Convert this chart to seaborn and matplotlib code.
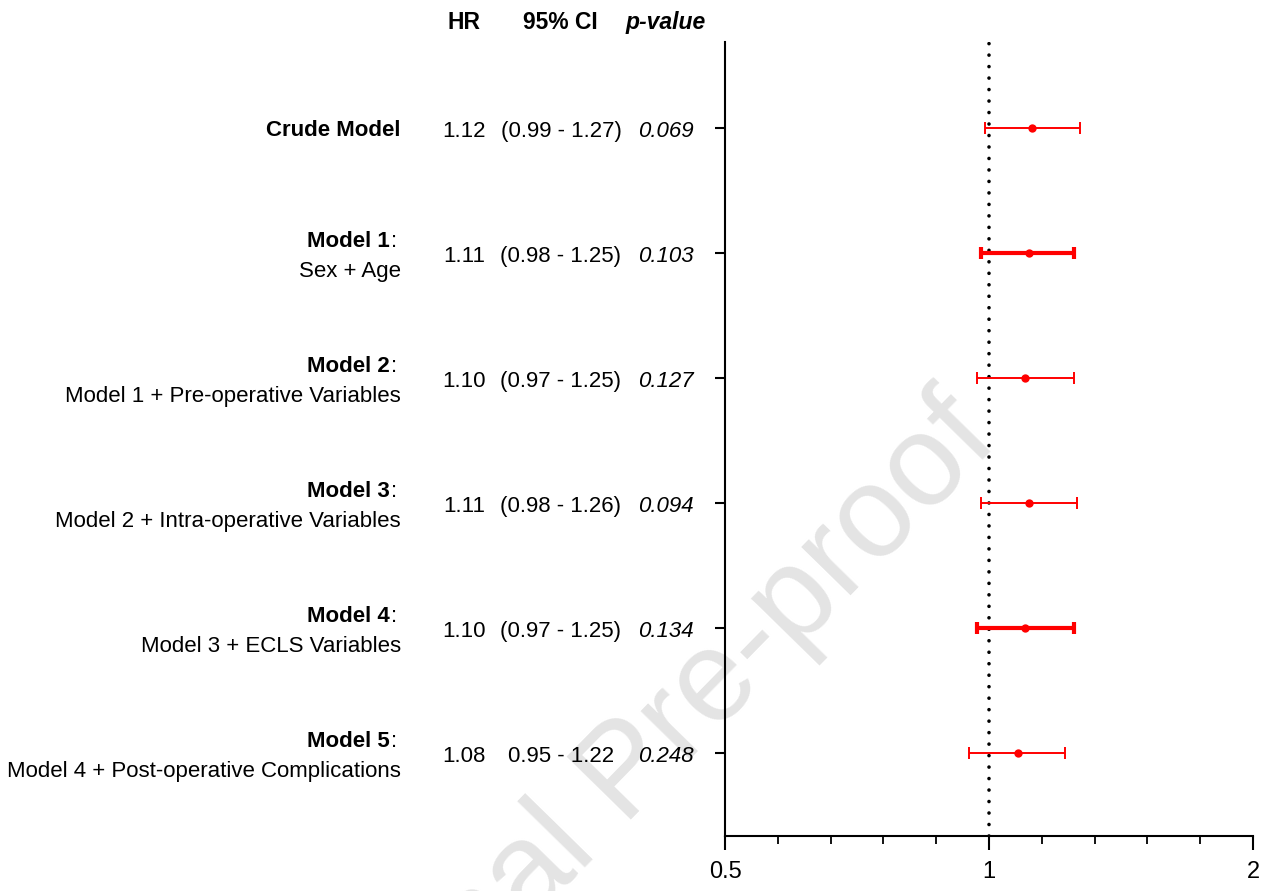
import matplotlib
matplotlib.use("Agg")
import matplotlib.pyplot as plt
import matplotlib.transforms as mtransforms
from matplotlib.ticker import FixedLocator, NullFormatter
import numpy as np
import pandas as pd
import seaborn as sns

# ---------------- data ----------------
model_names = ["Crude Model", "Model 1", "Model 2", "Model 3", "Model 4", "Model 5"]
model_desc = ["", "Sex + Age", "Model 1 + Pre-operative Variables",
              "Model 2 + Intra-operative Variables", "Model 3 + ECLS Variables",
              "Model 4 + Post-operative Complications"]
hr = [1.12, 1.11, 1.10, 1.11, 1.10, 1.08]
ci_low = [0.99, 0.98, 0.97, 0.98, 0.97, 0.95]
ci_high = [1.27, 1.25, 1.25, 1.26, 1.25, 1.22]
hr_text = ["1.12", "1.11", "1.10", "1.11", "1.10", "1.08"]
ci_text = ["(0.99 - 1.27)", "(0.98 - 1.25)", "(0.97 - 1.25)", "(0.98 - 1.26)",
           "(0.97 - 1.25)", "0.95 - 1.22"]
p_text = ["0.069", "0.103", "0.127", "0.094", "0.134", "0.248"]
xtick_vals = [0.5, 1, 2]
xtick_labels = ["0.5", "1", "2"]

# styles (not data)
bar_lw = [1.4, 3.0, 1.4, 1.4, 3.0, 1.4]

df = pd.DataFrame({"model": model_names, "hr": hr, "lo": ci_low, "hi": ci_high,
                   "row": np.arange(len(model_names))})

sns.set_theme(style="ticks")
FAM = ["Liberation Sans", "DejaVu Sans"]
plt.rcParams["font.family"] = FAM
plt.rcParams["axes.linewidth"] = 1.5
plt.rcParams["text.color"] = "black"
plt.rcParams["xtick.color"] = "black"
plt.rcParams["ytick.color"] = "black"
plt.rcParams["axes.edgecolor"] = "black"

fig = plt.figure(figsize=(12.69, 8.91), dpi=100)

# watermark (behind everything)
fig.text(303 / 1269, 1 - 1155 / 891, "Journal Pre-proof", ha="left", va="baseline",
         rotation=45.6, rotation_mode="anchor", fontsize=93, color="#e4e4e4",
         family="Liberation Sans", zorder=-5)

ax = fig.add_axes([725 / 1269, 1 - 836 / 891, (1253 - 725) / 1269, (836 - 42) / 891])
ax.patch.set_alpha(0)

ax.set_xscale("log", base=2)
ax.set_xlim(0.5, 2)
ax.set_ylim(5.664, -0.688)

# reference line
ax.axvline(1, color="black", lw=2.6, linestyle=(0, (0.01, 3.17)),
           dash_capstyle="round", zorder=1)

# confidence intervals
for i, r in df.iterrows():
    ax.errorbar(r["hr"], r["row"], xerr=[[r["hr"] - r["lo"]], [r["hi"] - r["hr"]]],
                fmt="none", ecolor="#ff0000", elinewidth=bar_lw[i], capsize=4.5,
                capthick=bar_lw[i] if bar_lw[i] > 2 else 1.4, zorder=2)

sns.scatterplot(data=df, x="hr", y="row", color="#ff0000", s=36, linewidth=0,
                ax=ax, zorder=3, legend=False)

# axes styling
sns.despine(ax=ax, top=True, right=True)
ax.set_xlabel("")
ax.set_ylabel("")
ax.set_xticks(xtick_vals)
ax.set_xticklabels(xtick_labels)
minor = [0.5 * 2 ** (k / 5) for k in range(1, 10) if k != 5]
ax.xaxis.set_minor_locator(FixedLocator(minor))
ax.xaxis.set_minor_formatter(NullFormatter())
ax.tick_params(axis="x", which="major", length=10, width=1.5, pad=8,
               labelsize=17, colors="black")
ax.tick_params(axis="x", which="minor", length=6, width=1.3, colors="black")
ax.set_yticks(df["row"])
ax.set_yticklabels([])
ax.tick_params(axis="y", which="major", length=7, width=1.5, colors="black")
ax.tick_params(axis="y", which="minor", length=0)
for lab in ax.get_xticklabels():
    lab.set_family(FAM)

trans = mtransforms.blended_transform_factory(fig.transFigure, ax.transData)
FS = 16

x_label = 401 / 1269
x_bold_end = 390 / 1269
x_hr = 464 / 1269
x_ci = 561 / 1269
x_p = 694 / 1269

for i in range(len(model_names)):
    if model_desc[i] == "":
        ax.annotate(model_names[i], xy=(x_label, i), xycoords=trans,
                    xytext=(0, -6.0), textcoords="offset points",
                    ha="right", va="baseline", fontsize=FS, fontweight="bold",
                    annotation_clip=False)
    else:
        t = ax.annotate(model_names[i], xy=(x_bold_end, i), xycoords=trans,
                        xytext=(0, 4.0), textcoords="offset points",
                        ha="right", va="baseline", fontsize=FS, fontweight="bold",
                        annotation_clip=False)
        ax.annotate(":", xy=(1, 0), xycoords=t, xytext=(1, 0),
                    textcoords="offset points", ha="left", va="bottom",
                    fontsize=FS, annotation_clip=False)
        ax.annotate(model_desc[i], xy=(x_label, i), xycoords=trans,
                    xytext=(0, -17.6), textcoords="offset points",
                    ha="right", va="baseline", fontsize=FS,
                    annotation_clip=False)
    ax.annotate(hr_text[i], xy=(x_hr, i), xycoords=trans, xytext=(0, -6.2),
                textcoords="offset points", ha="center", va="baseline",
                fontsize=FS, annotation_clip=False)
    ax.annotate(ci_text[i], xy=(x_ci, i), xycoords=trans, xytext=(0, -6.2),
                textcoords="offset points", ha="center", va="baseline",
                fontsize=FS, annotation_clip=False)
    ax.annotate(p_text[i], xy=(x_p, i), xycoords=trans, xytext=(0, -6.2),
                textcoords="offset points", ha="right", va="baseline",
                fontsize=FS, style="italic", annotation_clip=False)

# headers
hy = 1 - 29 / 891
fig.text(464 / 1269, hy, "HR", ha="center", va="baseline", fontsize=16.5,
         fontweight="bold")
fig.text(560 / 1269, hy, "95% CI", ha="center", va="baseline", fontsize=16.5,
         fontweight="bold")
fig.text(666 / 1269, hy, "p-value", ha="center", va="baseline", fontsize=16.5,
         fontweight="bold", style="italic")

fig.savefig("out.png", dpi=100)
